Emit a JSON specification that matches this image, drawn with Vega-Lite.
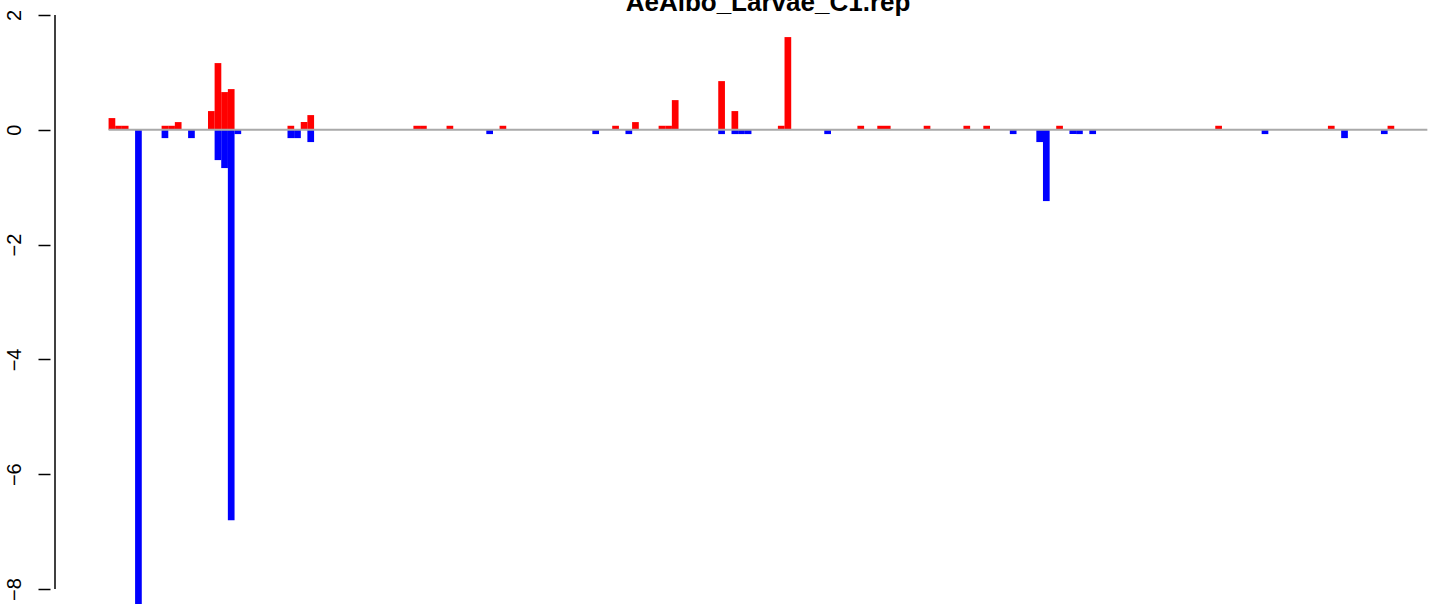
{
  "$schema": "https://vega.github.io/schema/vega-lite/v6.json",
  "width": 1386,
  "height": 604,
  "autosize": {"type": "none"},
  "padding": {"left": 50, "top": 0, "right": 0, "bottom": 0},
  "background": "white",
  "config": {"view": {"stroke": null}, "font": "Liberation Sans"},
  "layer": [
    {
      "data": {
        "values": [
          {"i": 0, "v": 0.204}, {"i": 1, "v": 0.07}, {"i": 2, "v": 0.07},
          {"i": 4, "v": -8.6},
          {"i": 8, "v": 0.07}, {"i": 8, "v": -0.145}, {"i": 9, "v": 0.07}, {"i": 10, "v": 0.134},
          {"i": 12, "v": -0.145},
          {"i": 15, "v": 0.326}, {"i": 16, "v": 1.162}, {"i": 16, "v": -0.528},
          {"i": 17, "v": 0.657}, {"i": 17, "v": -0.667},
          {"i": 18, "v": 0.709}, {"i": 18, "v": -6.8},
          {"i": 19, "v": -0.075},
          {"i": 27, "v": 0.07}, {"i": 27, "v": -0.145}, {"i": 28, "v": -0.145},
          {"i": 29, "v": 0.134}, {"i": 30, "v": 0.256}, {"i": 30, "v": -0.214},
          {"i": 46, "v": 0.07}, {"i": 47, "v": 0.07}, {"i": 51, "v": 0.07},
          {"i": 57, "v": -0.075}, {"i": 59, "v": 0.07}, {"i": 73, "v": -0.075},
          {"i": 76, "v": 0.07}, {"i": 78, "v": -0.075}, {"i": 79, "v": 0.134},
          {"i": 83, "v": 0.07}, {"i": 84, "v": 0.07}, {"i": 85, "v": 0.517},
          {"i": 92, "v": 0.848}, {"i": 92, "v": -0.075},
          {"i": 94, "v": 0.326}, {"i": 94, "v": -0.075}, {"i": 95, "v": -0.075}, {"i": 96, "v": -0.075},
          {"i": 101, "v": 0.07}, {"i": 102, "v": 1.615},
          {"i": 108, "v": -0.075}, {"i": 113, "v": 0.07}, {"i": 116, "v": 0.07}, {"i": 117, "v": 0.07},
          {"i": 123, "v": 0.07}, {"i": 129, "v": 0.07}, {"i": 132, "v": 0.07},
          {"i": 136, "v": -0.075}, {"i": 140, "v": -0.214}, {"i": 141, "v": -1.242},
          {"i": 143, "v": 0.07}, {"i": 145, "v": -0.075}, {"i": 146, "v": -0.075}, {"i": 148, "v": -0.075},
          {"i": 167, "v": 0.07}, {"i": 174, "v": -0.075}, {"i": 184, "v": 0.07},
          {"i": 186, "v": -0.145}, {"i": 192, "v": -0.075}, {"i": 193, "v": 0.07}
        ]
      },
      "mark": {"type": "bar", "width": 6.7, "clip": true},
      "encoding": {
        "x": {
          "field": "i",
          "type": "quantitative",
          "scale": {"domain": [-8.59, 199.05], "nice": false, "zero": false},
          "axis": {
            "orient": "top",
            "domain": false,
            "ticks": false,
            "labels": false,
            "grid": false,
            "title": "AeAlbo_Larvae_C1.rep",
            "titleFont": "Liberation Sans",
            "titleFontSize": 26,
            "titleFontWeight": "bold",
            "titleColor": "black",
            "titleAlign": "center",
            "titleBaseline": "alphabetic",
            "titleX": 717.5,
            "titleY": 10.7
          }
        },
        "y": {
          "field": "v",
          "type": "quantitative",
          "scale": {"domain": [-8.261, 2.261], "nice": false, "zero": false},
          "axis": {
            "values": [-8, -6, -4, -2, 0, 2],
            "domain": false,
            "grid": false,
            "ticks": true,
            "tickSize": 12,
            "tickColor": "black",
            "tickWidth": 1.5,
            "labelAngle": -90,
            "labelAlign": "center",
            "labelBaseline": "alphabetic",
            "labelPadding": 18,
            "labelFontSize": 20,
            "labelColor": "black",
            "labelFont": "Liberation Sans",
            "labelFlush": false,
            "labelOverlap": false,
            "labelBound": false,
            "format": "d",
            "title": null
          }
        },
        "y2": {"datum": 0},
        "color": {"condition": {"test": "datum.v > 0", "value": "#ff0000"}, "value": "#0000ff"}
      }
    },
    {
      "data": {"values": [{}]},
      "mark": {"type": "rule", "color": "#a9a9a9", "strokeWidth": 2},
      "encoding": {
        "x": {"datum": -0.5, "type": "quantitative"},
        "x2": {"datum": 198.5},
        "y": {"datum": 0, "type": "quantitative"}
      }
    },
    {
      "data": {"values": [{}]},
      "mark": {"type": "rule", "color": "black", "strokeWidth": 1.5},
      "encoding": {
        "x": {"datum": -8.59, "type": "quantitative"},
        "y": {"datum": -8, "type": "quantitative"},
        "y2": {"datum": 2}
      }
    }
  ]
}
